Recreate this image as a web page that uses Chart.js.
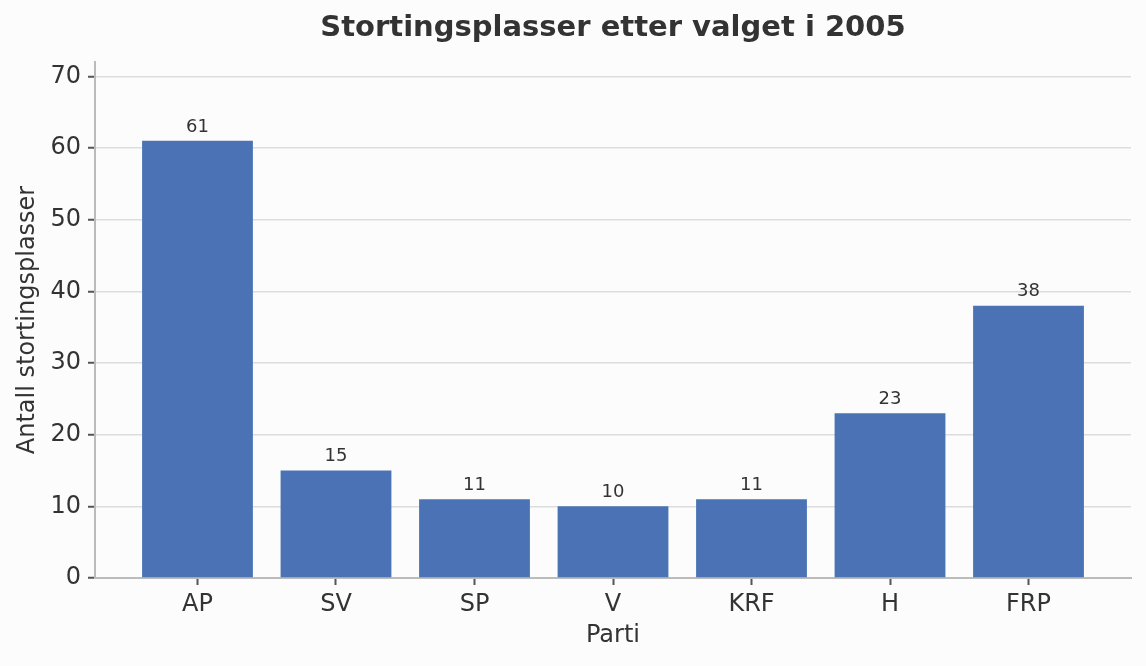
<!DOCTYPE html>
<html>
<head>
<meta charset="utf-8">
<script src="https://cdn.jsdelivr.net/npm/chart.js@4"></script>
<style>
  html, body { margin: 0; padding: 0; background: #fcfcfc; }
  #wrap { width: 1146px; height: 666px; }
</style>
</head>
<body>
<div id="wrap"><canvas id="chart"></canvas></div>
<script>
const parties = ['AP', 'SV', 'SP', 'V', 'KRF', 'H', 'FRP'];
const seats = [61, 15, 11, 10, 11, 23, 38];
const yTicks = [0, 10, 20, 30, 40, 50, 60, 70];
const chartTitle = 'Stortingsplasser etter valget i 2005';

const textColor = '#333333';
const font = 'DejaVu Sans';

// draws the seat count above each bar, and the title centred over the plot
const barLabels = {
  id: 'barLabels',
  afterDatasetsDraw(chart) {
    const ctx = chart.ctx;
    const meta = chart.getDatasetMeta(0);
    const area = chart.chartArea;
    ctx.save();
    ctx.fillStyle = textColor;
    ctx.font = '18px "' + font + '"';
    ctx.textAlign = 'center';
    ctx.textBaseline = 'bottom';
    meta.data.forEach((bar, i) => {
      ctx.fillText(String(seats[i]), bar.x, bar.y - 5);
    });
    ctx.font = 'bold 29px "' + font + '"';
    ctx.textBaseline = 'middle';
    ctx.fillText(chartTitle, (area.left + area.right) / 2, 28);
    ctx.restore();
  }
};

new Chart(document.getElementById('chart'), {
  type: 'bar',
  data: {
    datasets: [{
      data: seats.map((v, i) => ({ x: i, y: v })),
      backgroundColor: '#4a72b5',
      barPercentage: 0.8,
      categoryPercentage: 1.0
    }]
  },
  options: {
    responsive: true,
    maintainAspectRatio: false,
    animation: false,
    layout: { padding: { left: 0, right: 15, top: 62, bottom: 16 } },
    plugins: {
      legend: { display: false },
      tooltip: { enabled: false },
      title: { display: false }
    },
    scales: {
      x: {
        type: 'linear',
        min: -0.74,
        max: 6.74,
        offset: false,
        afterBuildTicks: axis => { axis.ticks = parties.map((p, i) => ({ value: i })); },
        afterFit: axis => { axis.height = 72; },
        ticks: {
          color: textColor,
          font: { family: font, size: 24 },
          padding: 5,
          autoSkip: false,
          maxRotation: 0,
          callback: v => parties[v]
        },
        grid: { offset: false, drawOnChartArea: false, color: '#555555', tickLength: 7, tickWidth: 2 },
        border: { color: '#bbbbbb', width: 2 },
        title: {
          display: true,
          text: 'Parti',
          color: textColor,
          font: { family: font, size: 24 },
          padding: { top: 0, bottom: 0 }
        }
      },
      y: {
        min: 0,
        max: 72,
        afterBuildTicks: axis => { axis.ticks = yTicks.map(v => ({ value: v })); },
        afterFit: axis => { axis.width = 95; },
        ticks: {
          color: textColor,
          font: { family: font, size: 24 },
          padding: 7
        },
        grid: {
          color: '#dddddd',
          lineWidth: 1.5,
          tickColor: '#555555',
          tickLength: 7,
          tickWidth: 2
        },
        border: { color: '#bbbbbb', width: 2 },
        title: {
          display: true,
          text: 'Antall stortingsplasser',
          color: textColor,
          font: { family: font, size: 24 },
          padding: { top: 13, bottom: 0 }
        }
      }
    }
  },
  plugins: [barLabels]
});
</script>
</body>
</html>
